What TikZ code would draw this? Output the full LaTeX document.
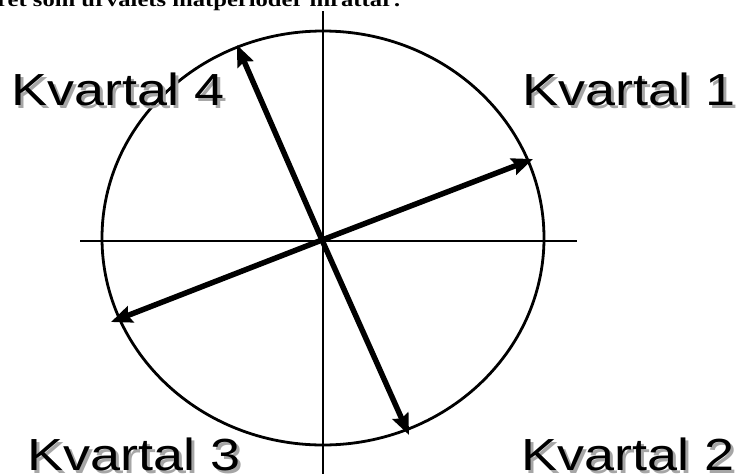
\documentclass[tikz,border=0pt]{standalone}
\usepackage{fontspec}
\setmainfont{Liberation Serif}
\newfontfamily\labelfont{Liberation Sans}
\usetikzlibrary{arrows.meta}

\begin{document}
\begin{tikzpicture}[
    x=1pt, y=-1pt,
    >={Stealth[length=21pt,width=17pt,inset=3pt]},
    axis/.style={line width=2.2pt},
    ring/.style={line width=2.8pt},
    vec/.style={->, line width=5.5pt},
    kvartal/.style={font=\labelfont\fontsize{45}{45}\selectfont, xscale=1.2, inner sep=0pt, anchor=base west},
    skugga/.style={kvartal, text=black!35}
]
\useasboundingbox (0,0) rectangle (743,474);
\clip (0,0) rectangle (743,474);

% heading, cut off by the page edge
\node[font=\bfseries\fontsize{20}{20}\selectfont, xscale=1.23, inner sep=0pt, anchor=base west] (rubrik) at (-3,6) {ret som urvalets mätperioder inrättar:};

% axes and circle
\coordinate (o) at (322,240);
\coordinate (axv) at (80,241);
\coordinate (axh) at (577,241);
\coordinate (axn) at (323,11);
\coordinate (axs) at (323,474);
\draw[axis] (axv) -- (axh);
\draw[axis] (axn) -- (axs);
\draw[ring] (323,238) ellipse [x radius=221pt, y radius=207pt];

% labels with shadow
\foreach \n/\x/\y in {1/522/105, 2/521/470, 3/27/470, 4/11/105} {
  \node[skugga] at (\x+3,\y+3) {Kvartal \n};
  \node[kvartal] (q\n) at (\x,\y) {Kvartal \n};
}

% arrows
\coordinate (t1) at (533,159);
\coordinate (t2) at (409,435);
\coordinate (t3) at (111,322);
\coordinate (t4) at (237,45);
\foreach \n in {1,...,4}
  \draw[vec] (o) -- (t\n);
\end{tikzpicture}
\end{document}
